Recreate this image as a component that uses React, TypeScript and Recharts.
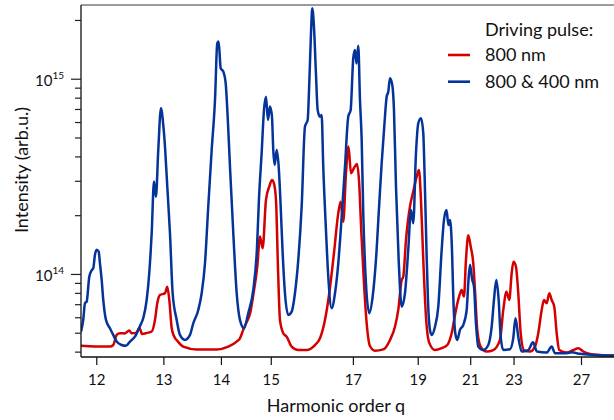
import React from 'react';
import { LineChart, Line, XAxis, YAxis, ReferenceLine } from 'recharts';

// Harmonic order q along each trace
const redOrder = [
  11.787, 11.975, 12.184, 12.231, 12.28, 12.328, 12.401, 12.464, 12.5, 12.565,
  12.618, 12.656, 12.733, 12.806, 12.858, 12.894, 12.937, 13.018, 13.055, 13.088,
  13.127, 13.165, 13.231, 13.321, 13.552, 13.912, 14.13, 14.292, 14.356, 14.421,
  14.489, 14.556, 14.623, 14.705, 14.761, 14.817, 14.887, 14.957, 15.015, 15.058,
  15.102, 15.145, 15.189, 15.262, 15.338, 15.452, 15.604, 15.801, 16.002, 16.125,
  16.25, 16.359, 16.48, 16.593, 16.656, 16.725, 16.798, 16.866, 16.934, 17.016,
  17.1, 17.155, 17.226, 17.297, 17.375, 17.47, 17.617, 17.867, 18.074, 18.231,
  18.336, 18.446, 18.498, 18.587, 18.72, 18.831, 18.947, 19.026, 19.095, 19.176,
  19.271, 19.389, 19.596, 19.845, 20.057, 20.228, 20.397, 20.529, 20.626, 20.72,
  20.803, 20.898, 20.999, 21.109, 21.181, 21.28, 21.429, 21.695, 21.996, 22.31,
  22.468, 22.623, 22.761, 22.88, 22.971, 23.097, 23.215, 23.339, 23.512, 23.833,
  24.108, 24.292, 24.486, 24.618, 24.775, 24.929, 25.072, 25.229, 25.376, 25.537,
  26.006, 26.439, 26.777, 27.124, 27.603, 28.351, 29.468,
];
// Intensity, in units of 1e14 arb.u.
const redIntensity = [
  0.431, 0.428, 0.427, 0.435, 0.49, 0.5, 0.499, 0.516, 0.5, 0.502,
  0.532, 0.496, 0.502, 0.51, 0.585, 0.712, 0.785, 0.801, 0.866, 0.74,
  0.532, 0.484, 0.453, 0.427, 0.413, 0.413, 0.427, 0.453, 0.471, 0.52,
  0.571, 0.627, 0.785, 1.096, 1.563, 1.362, 2.41, 2.82, 3.05, 2.93,
  2.41, 1.096, 0.585, 0.5, 0.48, 0.427, 0.41, 0.41, 0.435, 0.471,
  0.585, 0.801, 1.284, 2.06, 2.36, 1.86, 3.3, 4.52, 3.3, 3.51,
  3.68, 3.05, 1.59, 0.902, 0.562, 0.43, 0.407, 0.413, 0.462, 0.54,
  0.658, 0.937, 0.974, 1.5, 2.23, 2.66, 3.17, 3.43, 2.41, 1.19,
  0.608, 0.446, 0.41, 0.419, 0.435, 0.5, 0.658, 0.776, 0.833, 0.77,
  1.19, 1.59, 1.39, 1.14, 0.833, 0.52, 0.427, 0.403, 0.41, 0.462,
  0.658, 0.816, 0.74, 1.014, 1.163, 1.096, 0.801, 0.5, 0.41, 0.403,
  0.427, 0.5, 0.658, 0.74, 0.712, 0.801, 0.74, 0.684, 0.5, 0.41,
  0.398, 0.41, 0.419, 0.403, 0.392, 0.387, 0.384,
];

const blueOrder = [
  11.787, 11.817, 11.84, 11.863, 11.898, 11.93, 11.952, 11.975, 11.999, 12.026,
  12.044, 12.068, 12.09, 12.128, 12.184, 12.231, 12.28, 12.352, 12.415, 12.475,
  12.549, 12.625, 12.676, 12.728, 12.768, 12.806, 12.842, 12.873, 12.91, 12.953,
  12.99, 13.018, 13.055, 13.099, 13.143, 13.21, 13.265, 13.349, 13.435, 13.492,
  13.58, 13.64, 13.699, 13.758, 13.82, 13.881, 13.923, 13.949, 13.986, 14.035,
  14.08, 14.118, 14.162, 14.226, 14.292, 14.356, 14.435, 14.521, 14.623, 14.693,
  14.746, 14.796, 14.845, 14.887, 14.929, 14.972, 15.015, 15.043, 15.074, 15.117,
  15.161, 15.205, 15.249, 15.3, 15.374, 15.452, 15.527, 15.604, 15.683, 15.761,
  15.825, 15.864, 15.905, 15.936, 15.977, 16.026, 16.068, 16.125, 16.167, 16.207,
  16.275, 16.334, 16.421, 16.507, 16.593, 16.683, 16.771, 16.86, 16.925, 16.997,
  17.044, 17.086, 17.136, 17.184, 17.232, 17.277, 17.354, 17.45, 17.549, 17.647,
  17.746, 17.818, 17.897, 17.971, 18.021, 18.074, 18.146, 18.199, 18.263, 18.349,
  18.446, 18.554, 18.663, 18.753, 18.831, 18.923, 19.002, 19.095, 19.176, 19.218,
  19.289, 19.342, 19.414, 19.475, 19.596, 19.718, 19.845, 19.931, 20.027, 20.104,
  20.162, 20.24, 20.291, 20.37, 20.449, 20.558, 20.692, 20.832, 20.898, 20.97,
  21.066, 21.139, 21.224, 21.324, 21.543, 21.767, 21.922, 22.028, 22.135, 22.248,
  22.343, 22.468, 22.796, 22.961, 23.072, 23.215, 23.391, 23.741, 23.997, 24.219,
  24.775, 25.072, 25.271, 26.006, 26.333, 26.894, 27.846, 29.468,
];
const blueIntensity = [
  0.509, 0.585, 0.712, 0.726, 0.974, 1.05, 1.076, 1.26, 1.34, 1.31,
  1.14, 0.937, 0.74, 0.585, 0.53, 0.49, 0.453, 0.435, 0.431, 0.453,
  0.48, 0.545, 0.598, 0.74, 1.014, 1.625, 2.99, 2.5, 4.34, 7.11,
  5.83, 4.51, 2.82, 1.625, 0.801, 0.585, 0.49, 0.462, 0.49, 0.562,
  0.658, 0.801, 1.14, 2.23, 4.34, 7.83, 15.3, 15.6, 11.38, 10.95,
  9.55, 6.44, 3.57, 1.625, 0.801, 0.585, 0.53, 0.633, 0.833, 1.284,
  2.6, 4.18, 6.96, 8.14, 6.19, 7.24, 6.43, 4.34, 3.64, 4.34,
  3.57, 2.23, 1.284, 0.801, 0.62, 0.645, 0.801, 1.19, 2.23, 5.72,
  6.19, 9.55, 17.2, 23.1, 18.6, 10.67, 6.96, 6.43, 6.56, 3.57,
  1.69, 0.974, 0.671, 0.801, 1.14, 1.98, 3.57, 6.44, 6.96, 12.86,
  14.13, 12.05, 14.82, 7.83, 4.89, 2.06, 0.902, 0.633, 0.77, 1.19,
  2.32, 3.71, 5.72, 8.14, 8.63, 10.12, 9.35, 6.96, 2.82, 1.19,
  0.684, 0.801, 1.34, 2.14, 1.83, 4.18, 5.95, 6.32, 5.29, 3.43,
  1.34, 0.74, 0.52, 0.49, 0.54, 0.684, 1.34, 1.9, 2.14, 1.79,
  1.9, 1.34, 0.77, 0.5, 0.462, 0.52, 0.551, 0.658, 0.902, 1.12,
  0.937, 0.866, 0.562, 0.427, 0.41, 0.435, 0.54, 0.74, 0.937, 0.74,
  0.48, 0.41, 0.414, 0.473, 0.597, 0.48, 0.403, 0.41, 0.449, 0.403,
  0.398, 0.427, 0.395, 0.395, 0.399, 0.392, 0.387, 0.384,
];

const orderTicks = [12, 13, 14, 15, 17, 19, 21, 23, 27];
const intensityTicks = [0.4, 0.5, 0.6, 0.7, 0.8, 0.9, 1, 2, 3, 4, 5, 6, 7, 8, 9, 10, 20];
const decadeExponent: Record<number, string> = { 1: '14', 10: '15' };

const Q_MIN = 11.787;
const Q_MAX = 29.47;
const I_MIN = 0.3777;
const I_MAX = 24.0;

const RED = '#d40000';
const BLUE = '#04339a';
const FONT = 'Lato, "Open Sans", sans-serif';
const PLOT_LEFT = 81;

// the spectrometer axis is linear in wavelength, so plot against -1/q
const toAxis = (q: number) => -1 / q;
const toSeries = (order: number[], intensity: number[]) =>
  order.map((q, i) => ({ u: toAxis(q), v: intensity[i] }));

const redData = toSeries(redOrder, redIntensity);
const blueData = toSeries(blueOrder, blueIntensity);

function IntensityTick({ y, payload }: any) {
  const exp = decadeExponent[payload.value];
  return (
    <g>
      <line x1={PLOT_LEFT - (exp ? 10 : 6)} x2={PLOT_LEFT} y1={y} y2={y} stroke="#222" strokeWidth={1.2} />
      {exp && (
        <text x={PLOT_LEFT - 17} y={y + 7} textAnchor="end" fontSize={15} fill="#111" fontFamily={FONT}>
          10
          <tspan dy={-7} fontSize={10}>{exp}</tspan>
        </text>
      )}
    </g>
  );
}

const xTitle = () => (
  <text x={336} y={411.5} textAnchor="middle" fontSize={18} fill="#111" fontFamily={FONT}>
    Harmonic order q
  </text>
);

const yTitle = () => (
  <text
    x={21}
    y={170}
    transform="rotate(-90 21 170)"
    textAnchor="middle"
    dominantBaseline="central"
    fontSize={18}
    fill="#111"
    fontFamily={FONT}
  >
    Intensity (arb.u.)
  </text>
);

function PulseLegend() {
  return (
    <svg width={614} height={100} style={{ position: 'absolute', left: 0, top: 0, pointerEvents: 'none' }}>
      <g fontFamily={FONT} fontSize={18} fill="#111">
        <text x={485} y={36}>Driving pulse:</text>
        <line x1={448} x2={470} y1={55} y2={55} stroke={RED} strokeWidth={2.6} />
        <text x={485} y={61}>800 nm</text>
        <line x1={448} x2={470} y1={81.7} y2={81.7} stroke={BLUE} strokeWidth={2.6} />
        <text x={485} y={87.5}>800 &amp; 400 nm</text>
      </g>
    </svg>
  );
}

export default function App() {
  return (
    <div style={{ position: 'absolute', left: 0, top: 0, width: 614, height: 420, background: '#fff', fontFamily: FONT }}>
      <LineChart width={614} height={420} margin={{ top: 5, right: 0, bottom: 0, left: 0 }}>
        <XAxis
          type="number"
          dataKey="u"
          domain={[toAxis(Q_MIN), toAxis(Q_MAX)]}
          allowDataOverflow
          ticks={orderTicks.map(toAxis)}
          interval={0}
          tickFormatter={(u: number) => String(Math.round(-1 / u))}
          height={63}
          tickSize={8}
          tickMargin={9}
          axisLine={{ stroke: '#111', strokeWidth: 1.3 }}
          tickLine={{ stroke: '#111', strokeWidth: 1.2 }}
          tick={{ fontSize: 15, fill: '#111', fontFamily: FONT }}
          label={xTitle}
        />
        <YAxis
          type="number"
          scale="log"
          domain={[I_MIN, I_MAX]}
          allowDataOverflow
          ticks={intensityTicks}
          interval={0}
          width={PLOT_LEFT}
          tickLine={false}
          axisLine={{ stroke: '#111', strokeWidth: 1.3 }}
          tick={<IntensityTick />}
          label={yTitle}
        />
        <ReferenceLine y={I_MAX} stroke="#7a7a7a" strokeWidth={1.5} />
        <Line data={redData} dataKey="v" type="monotone" stroke={RED} strokeWidth={2.5} dot={false} isAnimationActive={false} />
        <Line data={blueData} dataKey="v" type="monotone" stroke={BLUE} strokeWidth={2.5} dot={false} isAnimationActive={false} />
      </LineChart>
      <PulseLegend />
    </div>
  );
}
